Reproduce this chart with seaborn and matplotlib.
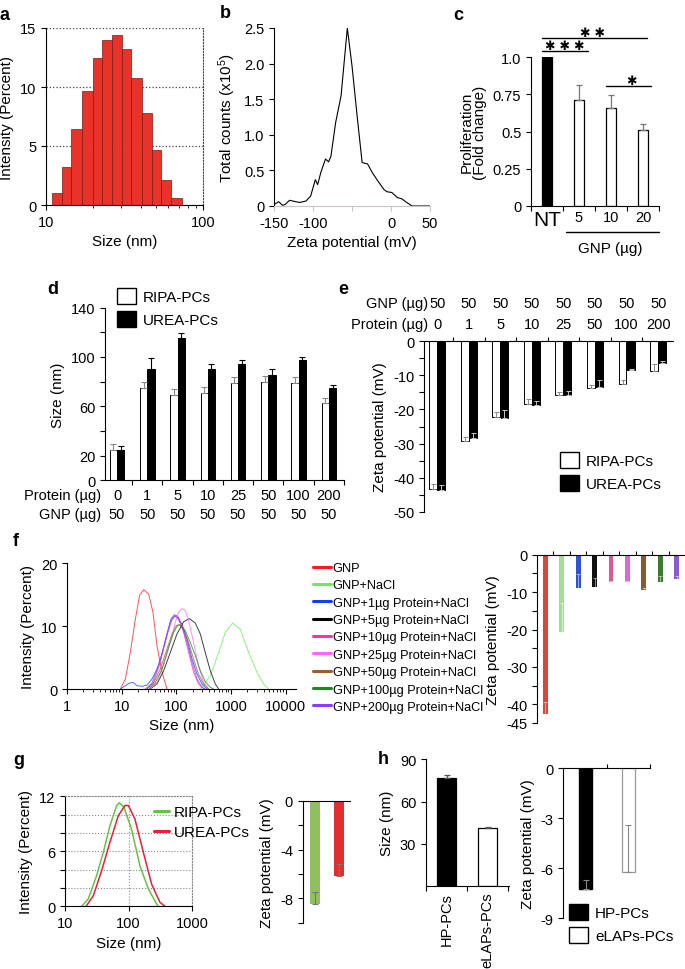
import numpy as np
import pandas as pd
import seaborn as sns
import matplotlib.pyplot as plt
from matplotlib.lines import Line2D
from matplotlib.patches import Patch
from matplotlib.ticker import NullFormatter

sns.set_style("ticks", {"axes.edgecolor": "black", "xtick.color": "black",
                        "ytick.color": "black", "text.color": "black",
                        "axes.labelcolor": "black"})
plt.rcParams['font.family'] = ['Liberation Sans', 'DejaVu Sans']
plt.rcParams['axes.unicode_minus'] = False
plt.rcParams['mathtext.default'] = 'regular'
plt.rcParams['axes.labelsize'] = 11
plt.rcParams['xtick.labelsize'] = 10.5
plt.rcParams['ytick.labelsize'] = 10.5
plt.rcParams['axes.linewidth'] = 0.8
plt.rcParams['xtick.major.width'] = 0.8
plt.rcParams['ytick.major.width'] = 0.8
plt.rcParams['xtick.major.size'] = 3.5
plt.rcParams['ytick.major.size'] = 3.5

# ---- a: DLS size histogram
a_edges = [10.9, 12.7, 14.5, 16.9, 19.8, 22.8, 26.2, 30.3, 34.8, 40.8, 47.3, 54.2, 62.9, 73.7]
a_pct = [1.0, 3.2, 6.4, 9.7, 12.5, 14.0, 14.4, 13.2, 10.8, 7.8, 4.7, 2.1, 0.6]

# ---- b: zeta potential distribution
b_mv = [-150, -144, -139, -136, -130, -124, -117, -109, -103, -97, -94, -90, -84, -80, -77,
        -71, -64, -56, -50, -43, -37, -30, -24, -18, -9, -5, 1, 8, 14, 20, 27, 50]
b_counts = [0.02, 0.06, 0.01, 0.02, 0.08, 0.065, 0.05, 0.07, 0.14, 0.37, 0.30, 0.47, 0.66, 0.62, 0.70,
            1.17, 1.55, 2.5, 1.97, 1.22, 0.61, 0.59, 0.47, 0.37, 0.23, 0.20, 0.19, 0.12, 0.10, 0.05, 0.0, 0.0]

# ---- c: proliferation
c_groups = ['NT', '5', '10', '20']
c_fold = [1.0, 0.71, 0.66, 0.51]
c_err = [0.0, 0.10, 0.085, 0.04]

# ---- d / e: RIPA vs UREA protein coronas
pc_groups = ['RIPA-PCs', 'UREA-PCs']
d_protein = ['0', '1', '5', '10', '25', '50', '100', '200']
d_gnp = ['50', '50', '50', '50', '50', '50', '50', '50']
d_ripa = [24.8, 74.6, 69.5, 70.8, 78.7, 79.3, 78.7, 62.5]
d_ripa_err = [4.3, 4.8, 4.3, 5.1, 4.8, 5.3, 5.4, 4.6]
d_urea = [24.8, 90.2, 115.6, 90.2, 94.0, 85.6, 97.5, 74.9]
d_urea_err = [3.0, 8.6, 4.0, 4.3, 3.8, 4.4, 2.8, 2.2]

e_ripa = [-43.3, -29.4, -22.3, -18.3, -15.7, -13.7, -12.5, -8.7]
e_ripa_err = [1.3, 1.4, 1.7, 1.5, 0.7, 0.9, 1.0, 1.9]
e_urea = [-43.5, -28.5, -22.5, -18.6, -15.8, -13.3, -8.5, -6.5]
e_urea_err = [1.3, 1.5, 2.4, 1.0, 1.2, 1.8, 0.5, 0.7]

# ---- f: size distributions + zeta with NaCl
f_labels = ['GNP', 'GNP+NaCl', 'GNP+1µg Protein+NaCl', 'GNP+5µg Protein+NaCl',
            'GNP+10µg Protein+NaCl', 'GNP+25µg Protein+NaCl', 'GNP+50µg Protein+NaCl',
            'GNP+100µg Protein+NaCl', 'GNP+200µg Protein+NaCl']
f_colors = ['#ff1a1a', '#66ee55', '#1040ee', '#000000', '#ff3399', '#ff66ff',
            '#99602a', '#1a8a1a', '#8a3cff']

f_gnp_x = [9.5, 11.7, 14.4, 17.8, 21.3, 25.3, 31.2, 37.4, 44.3, 54.7, 67.5]
f_gnp_y = [0, 1.6, 5.8, 11.1, 14.9, 15.8, 15.1, 12.2, 6.9, 2.7, 0]
f_nacl_x = [275, 419, 595, 787, 1072, 1482, 2104, 2990, 3963, 4886]
f_nacl_y = [0, 2.1, 5.8, 9.0, 10.5, 9.5, 5.8, 2.65, 0.8, 0]
f_p1_x = [9.5, 11.7, 14.0, 16.1, 19.1, 23.5, 29.1, 35.9, 44.3, 54.7, 67.5, 79.8, 91.9, 105.7, 127, 157, 194, 239, 295, 364]
f_p1_y = [0, 0.53, 0.95, 1.06, 0.53, 0.42, 0.64, 1.59, 3.18, 5.57, 8.75, 11.1, 11.8, 11.6, 10.3, 7.96, 4.77, 2.39, 0.8, 0]
f_p5_x = [33.4, 44.3, 58.7, 77.6, 102.8, 136, 173, 223, 275, 339, 419, 517, 595]
f_p5_y = [0, 0.8, 2.9, 5.8, 8.75, 10.7, 11.2, 10.5, 8.75, 5.8, 2.9, 0.8, 0]
f_p10_x = [29.1, 38.4, 50.9, 67.5, 83.4, 95.9, 110, 136, 168, 207, 255, 316]
f_p10_y = [0, 1.06, 4.24, 8.49, 11.1, 11.6, 11.1, 9.0, 5.8, 2.65, 0.8, 0]
f_p25_x = [33.4, 44.3, 58.7, 77.6, 95.9, 110, 127, 146, 168, 207, 255, 316, 390]
f_p25_y = [0, 1.06, 3.7, 7.4, 10.6, 12.2, 12.8, 12.5, 10.9, 7.4, 3.7, 1.06, 0]
f_p50_x = [29.1, 38.4, 50.9, 67.5, 83.4, 100, 115, 136, 168, 207, 255, 316, 390]
f_p50_y = [0, 0.95, 3.18, 6.37, 8.75, 10.1, 10.2, 9.5, 7.4, 4.77, 2.39, 0.8, 0]
f_p100_x = [31.2, 41.1, 54.7, 72.2, 89.4, 107, 123, 146, 180, 223, 275, 339, 419, 483]
f_p100_y = [0, 0.95, 3.18, 6.63, 9.0, 10.2, 10.1, 9.3, 7.4, 5.3, 2.9, 1.17, 0.27, 0]
f_p200_x = [27.0, 35.9, 47.5, 62.9, 77.6, 91.9, 105.7, 127, 157, 194, 239, 295, 340]
f_p200_y = [0, 0.95, 3.7, 7.7, 10.6, 11.6, 11.4, 10.1, 7.4, 4.24, 1.59, 0.27, 0]

f_zeta = [-42.5, -20.8, -8.9, -8.7, -7.4, -7.4, -9.4, -7.4, -6.5]
f_zeta_err = [3.2, 7.8, 3.7, 2.4, 0.4, 0.4, 0.5, 1.6, 0.7]

# ---- g: RIPA vs UREA size distribution + zeta
g_ripa_x = [18.3, 23.2, 31.4, 40.0, 50.9, 64.9, 71.3, 84.5, 111, 150.6, 204, 275, 292]
g_ripa_y = [0, 0.8, 3.35, 5.9, 8.8, 11.0, 11.3, 10.8, 8.4, 4.4, 1.9, 0.25, 0]
g_urea_x = [21.4, 27.9, 37.7, 50.9, 68.9, 87.6, 98.9, 125.7, 170, 230, 310, 372]
g_urea_y = [0, 1.16, 3.9, 7.0, 9.9, 11.0, 11.0, 9.5, 5.9, 2.4, 0.44, 0]
g_zeta = [-8.5, -6.2]
g_zeta_err = [1.0, 1.0]

# ---- h: HP vs eLAPs
h_groups = ['HP-PCs', 'eLAPs-PCs']
h_size = [76.5, 41.1]
h_size_err = [2.2, 0.9]
h_zeta = [-7.25, -6.25]
h_zeta_err = [0.55, 2.85]

W, H = 685, 970
fig = plt.figure(figsize=(W / 100, H / 100), dpi=100)


def add_ax(l, t, r, b):
    return fig.add_axes([l / W, 1 - b / H, (r - l) / W, (b - t) / H])


def letter(x, y, s):
    fig.text(x / W, 1 - y / H, s, fontsize=13, fontweight='bold', ha='left', va='center')


def err_up(ax, bars, errs, color, lw=0.8, cap=2.0, alpha=1.0):
    for bar, e in zip(bars, errs):
        if e <= 0:
            continue
        x = bar.get_x() + bar.get_width() / 2
        y = bar.get_y() + bar.get_height()
        ax.errorbar([x], [y], yerr=[[0], [e]], fmt='none', ecolor=color, alpha=alpha,
                    elinewidth=lw, capsize=cap, capthick=lw, zorder=5)


def top_zero_axis(ax, n):
    sns.despine(ax=ax, top=False, bottom=True, right=True)
    ax.xaxis.set_ticks_position('top')
    ax.set_xticks(np.arange(n - 1) + 0.5)
    ax.set_xticklabels([])
    ax.tick_params(axis='x', length=3)
    ax.set_xlabel('')


def sq_legend(handles, labels, x, y, **kw):
    fig.legend(handles, labels, loc='upper left', bbox_to_anchor=(x / W, 1 - y / H),
               frameon=False, fontsize=11, handlelength=1.25, handleheight=1.2,
               handletextpad=0.45, labelspacing=0.45, borderpad=0, borderaxespad=0, **kw)


def sorted_bars(ax):
    return sorted(ax.patches, key=lambda p: p.get_x())


# ===== a
ax = add_ax(46, 29, 203, 206)
a_centers = np.sqrt(np.array(a_edges[:-1]) * np.array(a_edges[1:]))
sns.histplot(x=a_centers, weights=a_pct, bins=a_edges, color='#e8322a', alpha=1,
             edgecolor='#7a1a12', linewidth=0.5, ax=ax)
ax.set_xscale('log')
ax.set_xlim(10, 100)
ax.set_ylim(0, 15)
ax.set_xticks([10, 100])
ax.set_xticklabels(['10', '100'])
ax.xaxis.set_minor_formatter(NullFormatter())
ax.set_yticks([0, 5, 10, 15])
ax.yaxis.grid(True, ls=':', color='#444444', lw=0.9)
ax.spines['top'].set_visible(False)
ax.spines['right'].set_linestyle(':')
ax.spines['right'].set_color('#444444')
ax.set_xlabel('Size (nm)')
ax.set_ylabel('Intensity (Percent)')
letter(0, 16, 'a')

# ===== b
ax = add_ax(274, 29, 430, 207)
sns.lineplot(x=b_mv, y=b_counts, color='black', lw=0.8, estimator=None, ax=ax)
ax.set_xlim(-150, 50)
ax.set_ylim(0, 2.5)
ax.set_yticks([0, 0.5, 1.0, 1.5, 2.0, 2.5])
ax.set_yticklabels(['0', '0.5', '1.0', '1.5', '2.0', '2.5'])
ax.set_xticks([-150, -100, -50, 0, 50])
ax.set_xticklabels(['-150', '-100', '', '0', '50'])
sns.despine(ax=ax)
ax.spines['bottom'].set_color('#cfc4c4')
ax.tick_params(axis='x', color='#cfc4c4')
ax.set_xlabel('Zeta potential (mV)')
ax.set_ylabel('Total counts (x10$^{5}$)')
letter(220, 14, 'b')

# ===== c
ax = add_ax(531, 58, 659, 207)
sns.barplot(x=c_groups, y=c_fold, hue=c_groups, palette=['black', 'white', 'white', 'white'],
            edgecolor='black', linewidth=0.9, width=0.31, legend=False, ax=ax)
err_up(ax, sorted_bars(ax), c_err, '#777777', lw=0.9, cap=2.5)
ax.set_xlim(-0.5, 3.5)
ax.set_ylim(0, 1.0)
ax.set_yticks([0, 0.25, 0.5, 0.75, 1.0])
ax.set_yticklabels(['0', '0.25', '0.5', '0.75', '1.0'])
ax.set_xticks([-0.5, 0.5, 1.5, 2.5, 3.5])
ax.set_xticklabels([])
ax.set_xticks([0, 1, 2, 3], minor=True)
ax.set_xticklabels(c_groups, minor=True)
ax.tick_params(axis='x', which='minor', length=0, pad=3)
ax.get_xticklabels(minor=True)[0].set_fontsize(15)
sns.despine(ax=ax)
ax.spines['left'].set_bounds(0, 1.0)
ax.set_ylabel('Proliferation\n(Fold change)', linespacing=0.95)
for x0, x1, yl, ys, xs, s in [(-0.16, 1.28, 1.04, 1.075, 0.56, '✱ ✱ ✱'),
                              (-0.16, 3.14, 1.127, 1.165, 1.43, '✱ ✱'),
                              (1.83, 3.26, 0.805, 0.845, 2.65, '✱')]:
    ax.plot([x0, x1], [yl, yl], color='black', lw=1.0, clip_on=False)
    ax.text(xs, ys, s, ha='center', va='center', fontsize=9, family=['DejaVu Sans'])
xt = ax.get_xaxis_transform()
ax.plot([0.6, 3.5], [-0.175, -0.175], color='black', lw=1.0, transform=xt, clip_on=False)
ax.text(1.97, -0.285, 'GNP (µg)', transform=xt, ha='center', va='center', fontsize=11)
letter(453, 15, 'c')

# ===== d
ax = add_ax(105, 308.5, 344, 481.4)
d_df = pd.DataFrame({'protein': d_protein * 2,
                     'group': [pc_groups[0]] * 8 + [pc_groups[1]] * 8,
                     'size': d_ripa + d_urea})
sns.barplot(data=d_df, x='protein', y='size', hue='group', order=d_protein, hue_order=pc_groups,
            palette={'RIPA-PCs': 'white', 'UREA-PCs': 'black'}, edgecolor='black',
            linewidth=0.7, width=0.48, errorbar=None, legend=False, ax=ax)
err_up(ax, ax.containers[0], d_ripa_err, '#888888')
err_up(ax, ax.containers[1], d_urea_err, 'black')
ax.set_xlim(-0.4, 7.5)
ax.set_ylim(0, 140)
ax.set_yticks(range(0, 141, 20))
ax.set_yticklabels(['0', '20', '', '60', '', '100', '', '140'])
ax.set_xticks(np.arange(8) + 0.5)
ax.set_xticklabels([])
sns.despine(ax=ax)
ax.set_xlabel('')
ax.set_ylabel('Size (nm)')
xt = ax.get_xaxis_transform()
for i, (p, g) in enumerate(zip(d_protein, d_gnp)):
    ax.text(i, -0.084, p, transform=xt, ha='center', va='center', fontsize=10.5)
    ax.text(i, -0.194, g, transform=xt, ha='center', va='center', fontsize=10.5)
ax.text(-0.017, -0.084, 'Protein (µg)', transform=ax.transAxes, ha='right', va='center', fontsize=10.5)
ax.text(-0.017, -0.194, 'GNP (µg)', transform=ax.transAxes, ha='right', va='center', fontsize=10.5)
sq_legend([Patch(facecolor='white', edgecolor='black'), Patch(facecolor='black', edgecolor='black')],
          pc_groups, 117, 289)
letter(47, 290, 'd')

# ===== e
ax = add_ax(424, 342.3, 673, 512.7)
e_df = pd.DataFrame({'protein': d_protein * 2,
                     'group': [pc_groups[0]] * 8 + [pc_groups[1]] * 8,
                     'zeta': e_ripa + e_urea})
sns.barplot(data=e_df, x='protein', y='zeta', hue='group', order=d_protein, hue_order=pc_groups,
            palette={'RIPA-PCs': 'white', 'UREA-PCs': 'black'}, edgecolor='black',
            linewidth=0.7, width=0.52, gap=0.05, errorbar=None, legend=False, ax=ax)
err_up(ax, ax.containers[0], e_ripa_err, '#888888', lw=0.7, cap=1.8)
err_up(ax, ax.containers[1], e_urea_err, '#c8c8c8', lw=0.7, cap=1.8)
ax.set_xlim(-0.42, 7.47)
ax.set_ylim(-50, 0)
ax.set_yticks(range(-50, 1, 5))
ax.set_yticklabels(['-50', '', '-40', '', '-30', '', '-20', '', '-10', '', '0'])
top_zero_axis(ax, 8)
ax.set_ylabel('Zeta potential (mV)')
xt = ax.get_xaxis_transform()
for i, (p, g) in enumerate(zip(d_protein, d_gnp)):
    ax.text(i, 1.225, g, transform=xt, ha='center', va='center', fontsize=10.5)
    ax.text(i, 1.10, p, transform=xt, ha='center', va='center', fontsize=10.5)
ax.text(0.015, 1.225, 'GNP (µg)', transform=ax.transAxes, ha='right', va='center', fontsize=10.5)
ax.text(0.015, 1.10, 'Protein (µg)', transform=ax.transAxes, ha='right', va='center', fontsize=10.5)
sq_legend([Patch(facecolor='white', edgecolor='black'), Patch(facecolor='black', edgecolor='black')],
          pc_groups, 560, 453)
letter(338, 290, 'e')

# ===== f (left)
ax = add_ax(67, 564.3, 296, 690)
f_curves = [(f_gnp_x, f_gnp_y), (f_nacl_x, f_nacl_y), (f_p1_x, f_p1_y), (f_p5_x, f_p5_y),
            (f_p10_x, f_p10_y), (f_p25_x, f_p25_y), (f_p50_x, f_p50_y), (f_p100_x, f_p100_y),
            (f_p200_x, f_p200_y)]
for (xs, ys), col in zip(f_curves, f_colors):
    sns.lineplot(x=xs, y=ys, color=col, lw=0.7, alpha=0.75, estimator=None, ax=ax)
ax.set_xscale('log')
ax.set_xlim(1, 15500)
ax.set_ylim(0, 20)
ax.set_xticks([1, 10, 100, 1000, 10000])
ax.set_xticklabels(['1', '10', '100', '1000', '10000'])
ax.xaxis.set_minor_formatter(NullFormatter())
ax.set_yticks([0, 10, 20])
sns.despine(ax=ax)
ax.set_xlabel('Size (nm)')
ax.set_ylabel('Intensity (Percent)')
fig.legend([Line2D([], [], color=c, lw=2.2) for c in f_colors], f_labels, loc='upper left',
           bbox_to_anchor=(313 / W, 1 - 563 / H), frameon=False, fontsize=9.2,
           handlelength=1.4, handletextpad=0.15, labelspacing=0.42, borderpad=0, borderaxespad=0)
letter(13, 541, 'f')

# ===== f (right)
ax = add_ax(537, 555.7, 685, 724)
f_bar_colors = ['#ee3322', '#99ee88', '#1144ee', '#111111', '#ee4499', '#ee55ee',
                '#995522', '#338822', '#8844ee']
sns.barplot(x=f_labels, y=f_zeta, hue=f_labels, palette=f_bar_colors, width=0.3,
            linewidth=0, legend=False, ax=ax)
err_up(ax, sorted_bars(ax), f_zeta_err, 'white', lw=0.6, cap=1.5, alpha=0.6)
ax.set_xlim(-0.5, 8.5)
ax.set_ylim(-45, 0)
ax.set_yticks(range(-45, 1, 5))
ax.set_yticklabels(['-45', '-40', '', '-30', '', '-20', '', '-10', '', '0'])
top_zero_axis(ax, 9)
ax.set_ylabel('Zeta potential (mV)')

# ===== g (left)
ax = add_ax(65, 797.3, 192.3, 907.3)
sns.lineplot(x=g_ripa_x, y=g_ripa_y, color='#6cc04a', lw=1.1, estimator=None, ax=ax)
sns.lineplot(x=g_urea_x, y=g_urea_y, color='#e8203a', lw=1.1, estimator=None, ax=ax)
ax.set_xscale('log')
ax.set_xlim(10, 1000)
ax.set_ylim(0, 12)
ax.set_xticks([10, 100, 1000])
ax.set_xticklabels(['10', '100', '1000'])
ax.xaxis.set_minor_formatter(NullFormatter())
ax.tick_params(axis='x', which='minor', length=0)
ax.set_yticks(range(0, 13, 2))
ax.set_yticklabels(['0', '', '', '6', '', '', '12'])
ax.grid(True, ls=':', color='#888888', lw=0.8)
for s in ['top', 'right']:
    ax.spines[s].set_linestyle(':')
    ax.spines[s].set_color('#888888')
ax.set_xlabel('Size (nm)')
ax.set_ylabel('Intensity (Percent)')
fig.legend([Line2D([], [], color='#6cc04a', lw=2.2), Line2D([], [], color='#e8203a', lw=2.2)],
           pc_groups, loc='upper left', bbox_to_anchor=(154 / W, 1 - 806 / H), frameon=False,
           fontsize=11, handlelength=0.95, handletextpad=0.37, labelspacing=0.4,
           borderpad=0, borderaxespad=0)
letter(13, 761, 'g')

# ===== g (right)
ax = add_ax(302.7, 801.7, 350, 923.7)
sns.barplot(x=pc_groups, y=g_zeta, hue=pc_groups, palette=['#8ed04e', '#ff1010'], width=0.4,
            linewidth=0, legend=False, ax=ax)
err_up(ax, sorted_bars(ax), g_zeta_err, '#777777', lw=0.8, cap=2.5)
ax.set_xlim(-0.5, 1.45)
ax.set_ylim(-10, 0)
ax.set_yticks(range(-10, 1, 2))
ax.set_yticklabels(['', '-8', '', '-4', '', '0'])
top_zero_axis(ax, 2)
ax.set_xticks([])
ax.set_ylabel('Zeta potential (mV)')

# ===== h (left)
ax = add_ax(426, 760.3, 509.3, 887.3)
sns.barplot(x=h_groups, y=h_size, hue=h_groups, palette=['black', 'white'], edgecolor='black',
            linewidth=0.9, width=0.47, legend=False, ax=ax)
err_up(ax, sorted_bars(ax), h_size_err, '#555555', lw=0.9, cap=2.5)
ax.set_xlim(-0.5, 1.53)
ax.set_ylim(0, 90)
ax.set_yticks([30, 60, 90])
ax.set_xticks([-0.5, 0.5, 1.5])
ax.set_xticklabels([])
ax.set_xticks([0, 1], minor=True)
ax.set_xticklabels(h_groups, minor=True, rotation=90)
ax.tick_params(axis='x', which='minor', length=0, pad=4)
sns.despine(ax=ax)
ax.set_ylabel('Size (nm)')
letter(378, 760, 'h')

# ===== h (right)
ax = add_ax(563.3, 769.3, 650, 919.3)
sns.barplot(x=h_groups, y=h_zeta, hue=h_groups, palette=['black', 'white'],
            width=0.3, legend=False, ax=ax)
bars = sorted_bars(ax)
bars[0].set_edgecolor('black')
bars[1].set_edgecolor('#999999')
bars[1].set_linewidth(0.9)
err_up(ax, bars, h_zeta_err, '#888888', lw=0.8, cap=2.5)
ax.set_xlim(-0.53, 1.51)
ax.set_ylim(-9, 0)
ax.set_yticks([-9, -6, -3, 0])
top_zero_axis(ax, 2)
ax.set_xticks([0.5, 1.5])
ax.set_xticklabels([])
ax.set_ylabel('Zeta potential (mV)')
sq_legend([Patch(facecolor='black', edgecolor='black'), Patch(facecolor='white', edgecolor='black')],
          h_groups, 569, 905)

fig.savefig('out.png', dpi=100)
